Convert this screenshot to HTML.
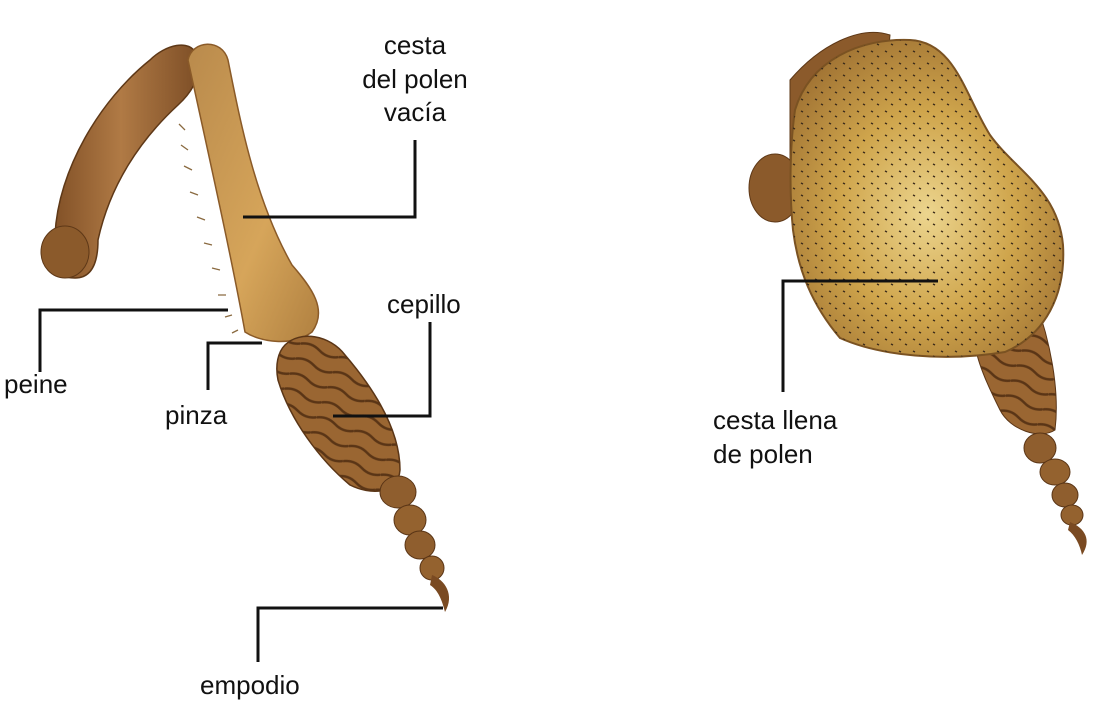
<!DOCTYPE html>
<html><head><meta charset="utf-8"><style>
html,body{margin:0;padding:0;background:#fff;}
svg{display:block}
text{font-family:"Liberation Sans",sans-serif;font-size:26px;fill:#111;}
</style></head><body>
<svg width="1100" height="705" viewBox="0 0 1100 705" xmlns="http://www.w3.org/2000/svg">
<defs>
<linearGradient id="br" x1="0" y1="0" x2="1" y2="0">
<stop offset="0" stop-color="#7a4a22"/><stop offset="0.5" stop-color="#b07a45"/><stop offset="1" stop-color="#7d4e26"/></linearGradient>
<linearGradient id="tib" x1="0" y1="0" x2="1" y2="1">
<stop offset="0" stop-color="#b98a4c"/><stop offset="0.6" stop-color="#d6a55a"/><stop offset="1" stop-color="#b08040"/></linearGradient>
<radialGradient id="pol" cx="0.5" cy="0.55" r="0.65">
<stop offset="0" stop-color="#ecd58e"/><stop offset="0.5" stop-color="#cfa54c"/><stop offset="1" stop-color="#9a6c30"/></radialGradient>
<pattern id="dots" width="14" height="12" patternUnits="userSpaceOnUse">
<path d="M3 3l2 1M9 8l2 1" stroke="#3a2a1a" stroke-width="1.5"/></pattern>
<pattern id="seg" width="40" height="16" patternUnits="userSpaceOnUse" patternTransform="rotate(20)">
<path d="M0 12 q10 -5 20 0 t20 0" stroke="#5a3516" stroke-width="2.5" fill="none"/></pattern>
</defs>

<!-- LEFT LEG -->
<path d="M55 235 C58 170 100 100 150 60 C165 45 190 38 197 55 C203 75 192 92 178 105 C140 140 110 185 98 240 C98 262 92 278 75 278 C50 278 38 255 45 240 Z" fill="url(#br)" stroke="#5e3817" stroke-width="1.5"/>
<ellipse cx="65" cy="252" rx="24" ry="26" fill="#8b5a2b" stroke="#5e3817"/>
<path d="M188 60 C192 40 222 38 228 60 C240 120 255 200 292 265 C312 288 328 310 312 332 C292 347 260 342 245 332 C232 260 212 170 188 60 Z" fill="url(#tib)" stroke="#8a5a28" stroke-width="1.5"/>
<path d="M185 130 l-6 -6 M188 150 l-7 -5 M192 170 l-8 -4 M198 195 l-8 -3 M205 220 l-8 -3 M212 245 l-8 -2 M220 270 l-8 -2 M226 295 l-8 0 M232 315 l-7 2 M238 330 l-6 3" stroke="#8a6a40" stroke-width="1.3"/>
<path d="M285 345 C300 330 330 335 345 355 C375 390 400 430 400 470 C398 495 370 495 350 485 C320 460 290 420 278 380 C275 365 278 352 285 345 Z" fill="#9a6632" stroke="#5a3516" stroke-width="1.5"/>
<path d="M285 345 C300 330 330 335 345 355 C375 390 400 430 400 470 C398 495 370 495 350 485 C320 460 290 420 278 380 C275 365 278 352 285 345 Z" fill="url(#seg)"/>
<ellipse cx="398" cy="492" rx="18" ry="16" fill="#8f5e2e" stroke="#5a3516"/>
<ellipse cx="410" cy="520" rx="16" ry="15" fill="#94622f" stroke="#5a3516"/>
<ellipse cx="420" cy="545" rx="15" ry="14" fill="#8f5e2e" stroke="#5a3516"/>
<ellipse cx="432" cy="568" rx="12" ry="12" fill="#94622f" stroke="#5a3516"/>
<path d="M432 575 C445 580 455 595 445 612 C442 600 438 590 430 585 Z" fill="#7a4a22"/>

<!-- RIGHT LEG -->
<path d="M975 345 C1000 335 1025 320 1035 300 C1050 340 1060 390 1055 430 C1040 440 1010 430 1000 410 C990 390 978 365 975 345 Z" fill="#9a6632" stroke="#5a3516"/>
<path d="M975 345 C1000 335 1025 320 1035 300 C1050 340 1060 390 1055 430 C1040 440 1010 430 1000 410 C990 390 978 365 975 345 Z" fill="url(#seg)"/>
<ellipse cx="1040" cy="448" rx="16" ry="15" fill="#8f5e2e" stroke="#5a3516"/>
<ellipse cx="1055" cy="472" rx="15" ry="13" fill="#94622f" stroke="#5a3516"/>
<ellipse cx="1065" cy="495" rx="13" ry="12" fill="#8f5e2e" stroke="#5a3516"/>
<ellipse cx="1072" cy="515" rx="11" ry="10" fill="#94622f" stroke="#5a3516"/>
<path d="M1070 522 C1085 528 1092 540 1082 555 C1080 545 1075 535 1068 530 Z" fill="#7a4a22"/>
<path d="M790 80 C820 45 860 25 890 35 L885 90 L790 200 Z" fill="#8b5a2b" stroke="#5e3817"/>
<ellipse cx="775" cy="188" rx="26" ry="34" fill="#8b5a2b" stroke="#5e3817"/>
<path d="M795 110 C810 60 860 38 910 40 C955 42 965 95 990 135 C1015 170 1058 190 1063 245 C1066 295 1045 335 1005 352 C945 362 880 356 840 338 C812 305 798 270 793 230 C789 190 790 145 795 110 Z" fill="url(#pol)" stroke="#7a5222" stroke-width="2"/>
<path d="M795 110 C810 60 860 38 910 40 C955 42 965 95 990 135 C1015 170 1058 190 1063 245 C1066 295 1045 335 1005 352 C945 362 880 356 840 338 C812 305 798 270 793 230 C789 190 790 145 795 110 Z" fill="url(#dots)"/>

<g stroke="#111" stroke-width="3" fill="none">
<polyline points="415,140 415,217 243,217"/>
<polyline points="40,372 40,310 228,310"/>
<polyline points="208,390 208,343 262,343"/>
<polyline points="430,322 430,416 333,416"/>
<polyline points="258,662 258,608 443,608"/>
<polyline points="783,392 783,281 938,281"/>
</g>

<text x="415" y="54" text-anchor="middle">cesta</text>
<text x="415" y="88" text-anchor="middle">del polen</text>
<text x="415" y="121" text-anchor="middle">vacía</text>
<text x="4" y="393">peine</text>
<text x="165" y="424">pinza</text>
<text x="387" y="313">cepillo</text>
<text x="200" y="694">empodio</text>
<text x="713" y="429">cesta llena</text>
<text x="713" y="463">de polen</text>
</svg>
</body></html>
